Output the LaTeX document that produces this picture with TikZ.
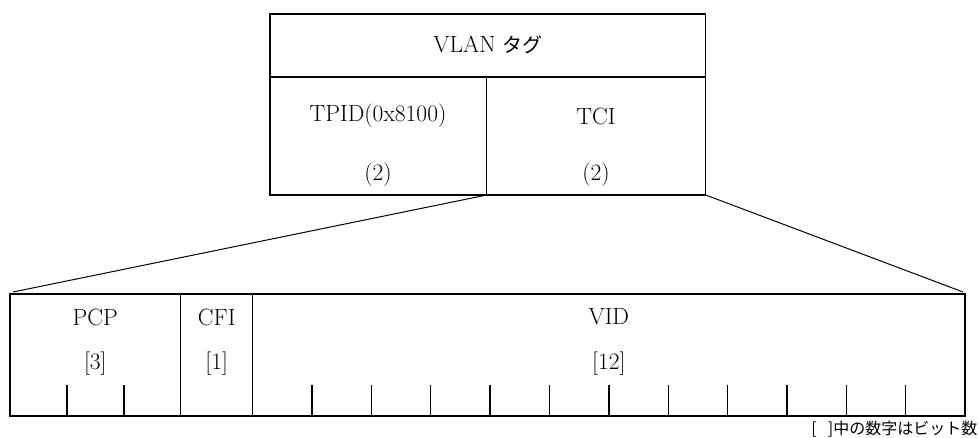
\documentclass[tikz,border=0pt]{standalone}
\usepackage{fontspec}
\newfontfamily\jp{Noto Sans CJK JP}
\begin{document}
\begin{tikzpicture}[x=1pt,y=-1pt, line width=1.4pt,
  cell/.style={draw, rectangle, inner sep=0pt, outer sep=0pt, anchor=north west},
  lbl/.style={font=\fontsize{23.5}{28}\selectfont, inner sep=0pt},
  note/.style={font=\jp\fontsize{16}{18}\selectfont, inner sep=0pt}]
\useasboundingbox (0,0) rectangle (979,438);
% top structure
\node[cell, minimum width=435.7pt, minimum height=63pt] (vlan) at (270,14) {};
\node[cell, minimum width=216.7pt, minimum height=118pt] (tpid) at (270,77) {};
\node[cell, minimum width=219pt, minimum height=118pt] (tci) at (486.7,77) {};
\node[lbl] (tvlan) at (488,45) {VLAN {\jp\fontsize{20}{24}\selectfont タグ}};
\node[lbl] (ttpid) at (378,116) {TPID(0x8100)};
\node[lbl] (ttpidn) at (378,175) {(2)};
\node[lbl] (ttci) at (596,116) {TCI};
\node[lbl] (ttcin) at (596,175) {(2)};
% bottom structure
\node[cell, minimum width=170.7pt, minimum height=122pt] (pcp) at (10,294) {};
\node[cell, minimum width=72pt, minimum height=122pt] (cfi) at (180.7,294) {};
\node[cell, minimum width=712.3pt, minimum height=122pt] (vid) at (252.7,294) {};
\node[lbl] (tpcp) at (95.3,317) {PCP};
\node[lbl] (tpcpn) at (95.3,364) {[3]};
\node[lbl] (tcfi) at (216.7,317) {CFI};
\node[lbl] (tcfin) at (216.7,364) {[1]};
\node[lbl] (tvid) at (608.8,317) {VID};
\node[lbl] (tvidn) at (608.8,364) {[12]};
% ticks
\foreach \i in {1,2} {
  \draw (10+\i*56.9,385) -- (10+\i*56.9,416);
}
\foreach \i in {1,...,11} {
  \draw (252.7+\i*59.36,385) -- (252.7+\i*59.36,416);
}
% connectors
\coordinate (lend) at (13,292);
\coordinate (rend) at (963,292);
\draw[line width=1pt] (tpid.south east) -- (lend);
\draw[line width=1pt] (tci.south east) -- (rend);
% note
\node[note, anchor=east] (tnote) at (978,429) {[\hspace{0.7em}]中の数字はビット数};
\end{tikzpicture}
\end{document}
